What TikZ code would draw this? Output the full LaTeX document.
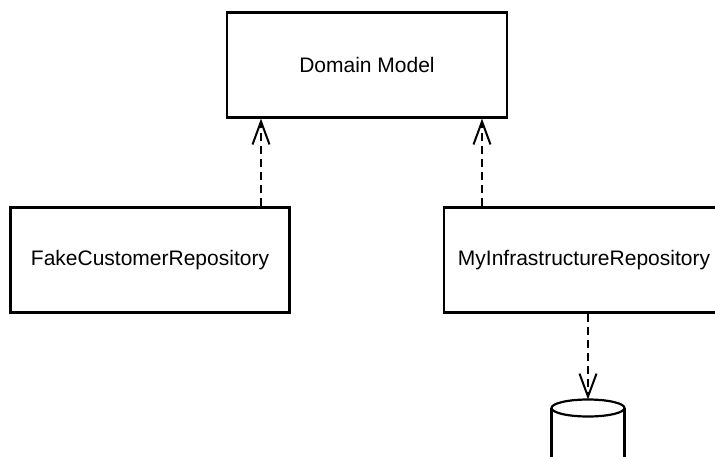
\documentclass[tikz,border=0pt]{standalone}
\usepackage{fontspec}
\setmainfont{Liberation Sans}
\usetikzlibrary{arrows.meta}

\tikzset{
    classbox/.style={draw, line width=2.2pt, minimum width=280pt, minimum height=105pt,
        inner sep=0pt, font=\fontsize{21}{25}\selectfont},
    dep/.style={line width=2.2pt, dash pattern=on 8pt off 5pt,
        -{Straight Barb[length=23pt, width=17pt, line width=2pt]}}
}

\begin{document}
\begin{tikzpicture}[x=1pt, y=-1pt]
        \clip (0,0) rectangle (715,456);
        \node[classbox] (dm) at (367,65) {Domain Model};
        \node[classbox, minimum width=279pt] (fake) at (150,260) {FakeCustomerRepository};
        \node[classbox] (infra) at (584,260) {MyInfrastructureRepository};
        % database
        \coordinate (db) at (588,399.5);
        \draw[line width=2.2pt] (588,408) ellipse [x radius=36.5, y radius=8.5];
        \draw[line width=2.2pt] (551.5,408) -- (551.5,470) (624.5,408) -- (624.5,470);
        \draw[dep] ([xshift=111pt]fake.north) -- ([xshift=111pt]fake.north |- dm.south);
        \draw[dep] ([xshift=-102pt]infra.north) -- ([xshift=-102pt]infra.north |- dm.south);
        \draw[dep] ([xshift=4pt]infra.south) -- (db);
    \end{tikzpicture}
\end{document}
